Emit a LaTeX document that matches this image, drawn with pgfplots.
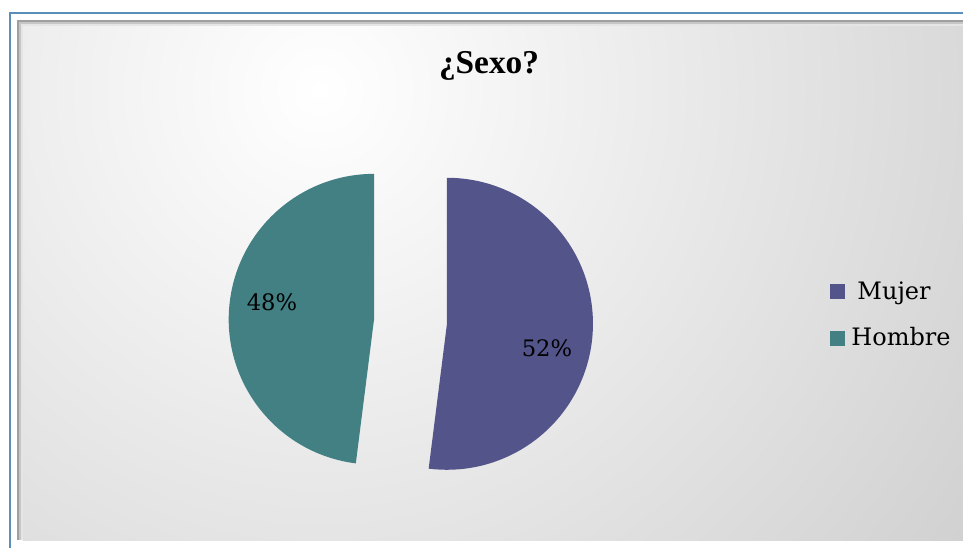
\documentclass[border=0pt]{standalone}
\usepackage{pgfplots}
\pgfplotsset{compat=1.18}
\usepackage{pgfplotstable}
\usepackage{fontspec}
\setmainfont{DejaVu Serif}
\newfontfamily\titlefont{Liberation Serif}
\definecolor{mujer}{HTML}{53548A}
\definecolor{hombre}{HTML}{428084}
\definecolor{frameblue}{HTML}{5B8FBA}
\definecolor{bgouter}{HTML}{D0D0D0}

\pgfplotstableread{
label value
Mujer 52
Hombre 48
}\sexdata

\begin{document}
\begin{tikzpicture}
\pgfplotstablegetelem{0}{value}\of\sexdata \let\vA\pgfplotsretval
\pgfplotstablegetelem{1}{value}\of\sexdata \let\vB\pgfplotsretval
\pgfmathsetmacro\aStart{90}
\pgfmathsetmacro\aMid{90-3.6*\vA}
\pgfmathsetmacro\aEnd{\aMid-3.6*\vB}
\pgfmathsetmacro\bisA{(\aStart+\aMid)/2}
\pgfmathsetmacro\bisB{(\aMid+\aEnd)/2}
\begin{axis}[
  hide axis, scale only axis,
  width=722.25pt, height=411pt,
  xmin=0, xmax=963, ymin=0, ymax=548, y dir=reverse,
  clip=false,
  legend style={at={(axis cs:826,277)}, anchor=north west, draw=none, fill=none,
    font=\fontsize{18pt}{21pt}\selectfont,
    nodes={inner sep=2pt, text height=12.5pt, text depth=4pt},
    row sep=14.5pt},
  legend cell align=left,
  legend image code/.code={\fill[#1] (0pt,-3.5pt) rectangle (10.5pt,7pt);},
]
% background and frame
\fill[white] (axis cs:0,0) rectangle (axis cs:963,548);
\fill[frameblue] (axis cs:9,12) rectangle (axis cs:963,14);
\fill[frameblue] (axis cs:9,12) rectangle (axis cs:11,548);
\begin{scope}
\clip (axis cs:23,26) rectangle (axis cs:963,540);
\shade[inner color=white, outer color=bgouter] (axis cs:320,90) circle [radius=600pt];
\end{scope}
\fill[gray!75] (axis cs:17,20) rectangle (axis cs:963,22);
\fill[gray!75] (axis cs:17,20) rectangle (axis cs:19,540);
\fill[gray!45] (axis cs:19,22) rectangle (axis cs:963,24);
\fill[gray!45] (axis cs:19,22) rectangle (axis cs:21,540);
\fill[gray!20] (axis cs:21,24) rectangle (axis cs:963,26);
\fill[gray!20] (axis cs:21,24) rectangle (axis cs:23,540);
% pie
\fill[mujer] (axis cs:410.5,321.5) ++(\bisA:27.4pt) -- ++(\aStart:109.5pt)
   arc[start angle=\aStart, end angle=\aMid, radius=109.5pt] -- cycle;
\fill[hombre] (axis cs:410.5,321.5) ++(\bisB:27.4pt) -- ++(\aMid:109pt)
   arc[start angle=\aMid, end angle=\aEnd, radius=109pt] -- cycle;
\node[font=\fontsize{17pt}{20pt}\selectfont] at (axis cs:547,348) {\vA\%};
\node[font=\fontsize{17pt}{20pt}\selectfont] at (axis cs:272,302) {\vB\%};
\node[font=\titlefont\bfseries\fontsize{25pt}{28pt}\selectfont] at (axis cs:489,66) {¿Sexo?};
\addlegendimage{mujer}
\addlegendentry{\hspace{7.5pt}Mujer}
\addlegendimage{hombre}
\addlegendentry{\hspace{3pt}Hombre}
\end{axis}
\end{tikzpicture}
\end{document}
